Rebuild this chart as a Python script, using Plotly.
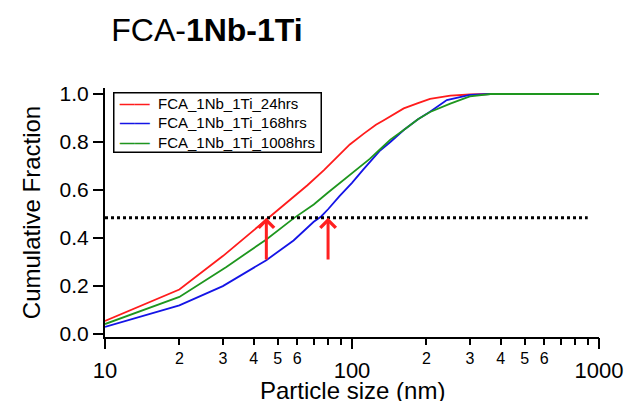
import math
import plotly.graph_objects as go

# ---- data ----
series_names = ["FCA_1Nb_1Ti_24hrs", "FCA_1Nb_1Ti_168hrs", "FCA_1Nb_1Ti_1008hrs"]
series_colors = ["#ff1c1c", "#1414e6", "#1e961e"]

red_x = [10, 20, 30, 45, 56, 66, 77, 88, 98, 112, 125, 134, 150, 162, 185, 207, 250, 300, 364, 500, 1000]
red_y = [0.055, 0.186, 0.325, 0.475, 0.558, 0.62, 0.683, 0.74, 0.79, 0.836, 0.872, 0.89, 0.92, 0.94, 0.962, 0.98, 0.993, 0.998, 1.0, 1.0, 1.0]

blue_x = [10, 20, 30, 45, 58, 70, 75, 80, 89, 100, 111, 122, 130, 143, 162, 185, 207, 242, 300, 364, 500, 1000]
blue_y = [0.03, 0.12, 0.20, 0.308, 0.39, 0.468, 0.49, 0.52, 0.575, 0.63, 0.685, 0.735, 0.765, 0.80, 0.85, 0.895, 0.926, 0.975, 0.996, 1.0, 1.0, 1.0]

green_x = [10, 20, 31, 45, 58, 70, 80, 93, 105, 118, 130, 143, 162, 185, 207, 230, 250, 300, 364, 500, 1000]
green_y = [0.042, 0.155, 0.28, 0.394, 0.482, 0.54, 0.59, 0.645, 0.69, 0.73, 0.77, 0.81, 0.85, 0.895, 0.925, 0.945, 0.96, 0.99, 1.0, 1.0, 1.0]

ref_level = 0.485
ref_x = [10, 900]
arrow_x = [45, 80]
arrow_tail_y = 0.305

minor_vals = [20, 30, 40, 50, 60, 70, 80, 90, 200, 300, 400, 500, 600, 700, 800, 900]
minor_text = ["2", "3", "4", "5", "6", "", "", "", "2", "3", "4", "5", "6", "", "", ""]
major_vals = [10, 100, 1000]
major_text = ["10", "100", "1000"]
y_vals = [0.0, 0.2, 0.4, 0.6, 0.8, 1.0]
y_text = ["0.0", "0.2", "0.4", "0.6", "0.8", "1.0"]

FONT = "Liberation Sans, Arial, sans-serif"

fig = go.Figure()
for name, color, xs, ys in zip(series_names, series_colors,
                               [red_x, blue_x, green_x], [red_y, blue_y, green_y]):
    fig.add_trace(go.Scatter(x=xs, y=ys, mode="lines", name=name, showlegend=False,
                             line=dict(color=color, width=1.8)))

fig.add_trace(go.Scatter(x=ref_x, y=[ref_level] * len(ref_x), mode="lines",
                         xaxis="x2", yaxis="y", showlegend=False,
                         line=dict(color="black", width=3, dash="dot")))

for ax in arrow_x:
    fig.add_annotation(x=math.log10(ax), y=ref_level, ax=math.log10(ax), ay=arrow_tail_y,
                       xref="x", yref="y", axref="x", ayref="y", text="",
                       showarrow=True, arrowhead=4, arrowwidth=3, arrowsize=1,
                       arrowcolor="#ff2020")

# legend box (compact, as in the reference)
legend_rows = [
    f'&nbsp;<span style="color:{c}"><b>\u2014\u2014</b></span>&nbsp;&nbsp;{n}&nbsp;'
    for n, c in zip(series_names, series_colors)
]
fig.add_annotation(x=0.016, y=0.985, xref="paper", yref="paper",
                   xanchor="left", yanchor="top", showarrow=False, align="left",
                   text="<br>".join(legend_rows), font=dict(size=15, color="black"),
                   bordercolor="black", borderwidth=1.5, borderpad=1, bgcolor="white")

# x-axis title, placed low as in the reference
fig.add_annotation(x=0.5, y=-0.215, xref="paper", yref="paper",
                   xanchor="center", yanchor="middle", showarrow=False,
                   text="Particle size (nm)", font=dict(size=24, color="black"))

fig.update_layout(
    width=631, height=401,
    margin=dict(l=105, r=32, t=88, b=64, autoexpand=False),
    paper_bgcolor="white", plot_bgcolor="white",
    font=dict(family=FONT, color="black"),
    showlegend=False,
    title=dict(text="FCA-<b>1Nb-1Ti</b>",
               font=dict(family=FONT, size=32, color="black"),
               x=0.328, xref="container", xanchor="center",
               y=0.925, yref="container", yanchor="middle"),
    xaxis=dict(type="log", range=[1, 3], tickmode="array", tickvals=minor_vals,
               ticktext=minor_text, ticks="outside", ticklen=6, tickwidth=1.5,
               tickcolor="black", showline=True, linewidth=2, linecolor="black",
               showgrid=False, zeroline=False, tickfont=dict(size=16), automargin=False),
    xaxis2=dict(type="log", range=[1, 3], overlaying="x", anchor="y", side="bottom",
                tickmode="array", tickvals=major_vals, ticktext=major_text,
                ticks="outside", ticklen=11, tickwidth=1.5, tickcolor="black",
                showline=False, showgrid=False, zeroline=False, automargin=False,
                tickfont=dict(size=22), ticklabelstandoff=3),
    yaxis=dict(range=[-0.012, 1.025], tickmode="array", tickvals=y_vals, ticktext=y_text,
               ticks="outside", ticklen=10, tickwidth=1.5, tickcolor="black",
               showline=True, linewidth=2, linecolor="black", showgrid=False,
               zeroline=False, tickfont=dict(size=21), automargin=False,
               title=dict(text="Cumulative Fraction", font=dict(size=24), standoff=12)),
)

fig.write_html("out.html")
